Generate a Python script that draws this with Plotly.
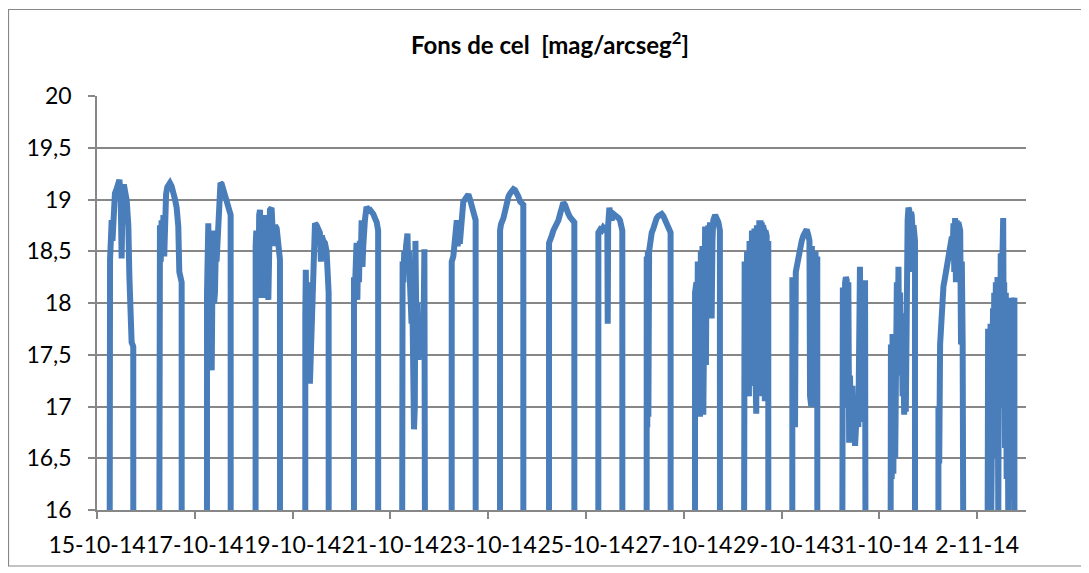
import pandas as pd
import plotly.graph_objects as go

# ---------------- data ----------------
start_date = "2014-10-15"
end_date = "2014-11-03"
chart_title = "<b>Fons de cel\u00a0 [mag/arcseg<sup>2</sup>]</b>"

x_tick_dates = ["2014-10-15", "2014-10-17", "2014-10-19", "2014-10-21", "2014-10-23",
                "2014-10-25", "2014-10-27", "2014-10-29", "2014-10-31", "2014-11-02"]
x_tick_labels = ["15-10-14", "17-10-14", "19-10-14", "21-10-14", "23-10-14",
                 "25-10-14", "27-10-14", "29-10-14", "31-10-14", "2-11-14"]
y_tick_values = [16, 16.5, 17, 17.5, 18, 18.5, 19, 19.5, 20]
y_tick_labels = ["16", "16,5", "17", "17,5", "18", "18,5", "19", "19,5", "20"]

# hours after midnight of each day / sky brightness (mag/arcsec^2); 12 = daylight (off scale)
n01_h = [6.0, 6.05, 6.1, 6.4, 6.9, 7.2, 7.6, 8.0, 8.8, 9.6, 10.5, 11.0, 11.6, 12.1, 12.6, 13.4, 14.6, 15.4, 15.9, 16.2, 17.0, 17.8, 17.85]
n01_m = [12, 16.95, 17.0, 18.42, 18.65, 18.8, 18.6, 18.9, 19.06, 19.1, 19.15, 19.19, 19.05, 18.43, 19.12, 19.12, 18.99, 18.74, 18.25, 17.77, 17.62, 17.58, 12]
n02_h = [6.2, 6.27, 6.4, 6.9, 7.3, 7.7, 8.1, 8.6, 9.0, 9.4, 9.9, 10.5, 11.8, 12.6, 13.5, 14.3, 15.1, 15.9, 16.4, 17.1, 17.55, 17.6]
n02_m = [12, 18.35, 18.6, 18.75, 18.4, 18.8, 18.45, 18.85, 18.45, 18.9, 19.05, 19.12, 19.16, 19.13, 19.08, 19.0, 18.92, 18.74, 18.3, 18.25, 18.2, 12]
n03_h = [5.95, 6.0, 6.3, 6.64, 7.0, 7.5, 7.9, 8.3, 8.7, 9.1, 9.5, 9.9, 10.3, 10.7, 11.2, 11.6, 12.0, 12.6, 13.2, 14.0, 14.8, 15.6, 16.5, 17.1, 17.6, 17.65]
n03_m = [12, 18.1, 18.5, 18.77, 17.4, 18.65, 17.5, 17.35, 18.3, 18.7, 18.0, 18.1, 18.5, 18.4, 18.6, 18.8, 19.12, 19.16, 19.15, 19.1, 19.05, 19.0, 18.95, 18.9, 18.85, 12]
n04_h = [5.8, 5.87, 6.2, 6.7, 7.2, 7.6, 8.0, 8.5, 8.9, 9.3, 9.9, 10.5, 10.9, 11.3, 11.7, 12.1, 12.9, 13.7, 14.6, 15.4, 16.2, 16.6, 17.0, 17.8, 17.85]
n04_m = [12, 18.55, 18.7, 18.3, 18.05, 18.85, 18.9, 18.1, 18.6, 18.05, 18.5, 18.85, 18.3, 18.1, 18.6, 18.03, 18.9, 18.92, 18.55, 18.75, 18.72, 18.6, 18.55, 18.42, 12]
n05_h = [6.2, 6.25, 6.5, 6.9, 7.3, 7.7, 8.1, 8.5, 9.0, 9.4, 9.8, 10.2, 10.6, 11.0, 11.8, 12.6, 13.4, 13.9, 14.3, 15.1, 15.9, 16.7, 17.0, 17.7, 17.75]
n05_m = [12, 17.9, 18.32, 17.5, 18.2, 17.25, 17.8, 17.22, 17.6, 17.5, 18.0, 18.45, 18.6, 18.77, 18.75, 18.72, 18.68, 18.4, 18.65, 18.6, 18.58, 18.5, 18.2, 18.1, 12]
n06_h = [6.1, 6.14, 6.5, 6.9, 7.4, 7.8, 8.2, 8.6, 9.0, 9.5, 9.9, 10.3, 10.7, 11.5, 12.3, 13.2, 14.0, 15.6, 16.5, 17.3, 18.0, 18.05]
n06_m = [12, 18.25, 18.05, 18.3, 18.58, 18.03, 18.55, 18.2, 18.6, 18.45, 18.8, 18.35, 18.55, 18.8, 18.93, 18.9, 18.9, 18.86, 18.82, 18.78, 18.7, 12]
n07_h = [5.5, 5.58, 6.0, 6.4, 6.8, 7.2, 7.7, 8.4, 8.8, 9.2, 9.6, 10.0, 10.4, 10.8, 11.2, 11.6, 12.0, 12.3, 12.6, 12.9, 13.3, 13.8, 14.2, 14.6, 15.0, 15.4, 15.8, 16.2, 16.7, 17.3, 17.35]
n07_m = [12, 18.1, 18.4, 18.2, 18.5, 18.35, 18.55, 18.67, 18.3, 18.5, 18.2, 18.06, 17.8, 18.0, 17.2, 16.78, 17.0, 18.6, 18.2, 17.5, 18.0, 17.45, 17.8, 17.55, 17.9, 17.5, 17.5, 17.6, 18.52, 18.45, 12]
n08_h = [6.05, 6.12, 6.9, 7.8, 8.6, 9.0, 9.4, 10.2, 11.0, 11.8, 12.6, 13.5, 14.3, 15.1, 15.9, 16.8, 17.85, 17.9]
n08_m = [12, 18.4, 18.45, 18.6, 18.8, 18.55, 18.6, 18.6, 18.9, 18.98, 19.0, 19.04, 19.05, 19.0, 18.93, 18.85, 18.8, 12]
n09_h = [5.8, 5.84, 6.3, 7.5, 8.3, 9.1, 10.0, 10.8, 11.6, 12.4, 13.2, 14.0, 14.8, 15.7, 16.5, 17.25, 17.3]
n09_m = [12, 18.7, 18.76, 18.82, 18.9, 18.98, 19.03, 19.06, 19.09, 19.1, 19.09, 19.07, 19.03, 18.98, 18.97, 18.95, 12]
n10_h = [5.85, 5.89, 6.5, 7.2, 8.0, 8.8, 9.7, 10.5, 11.3, 12.1, 12.9, 13.7, 14.6, 15.4, 16.2, 17.3, 18.3, 18.35]
n10_m = [12, 18.58, 18.6, 18.65, 18.7, 18.73, 18.78, 18.8, 18.86, 18.93, 18.97, 18.95, 18.88, 18.86, 18.83, 18.8, 18.78, 12]
n11_h = [6.05, 6.1, 7.0, 7.7, 8.5, 9.4, 10.2, 10.5, 10.69, 10.9, 11.5, 12.0, 12.6, 13.5, 14.3, 15.1, 16.0, 16.7, 17.85, 17.9]
n11_m = [12, 18.68, 18.71, 18.7, 18.73, 18.71, 18.74, 18.72, 17.8, 18.75, 18.92, 18.85, 18.8, 18.86, 18.85, 18.84, 18.82, 18.8, 18.7, 12]
n12_h = [5.75, 5.83, 6.1, 6.4, 6.64, 7.0, 7.46, 8.3, 9.1, 9.9, 10.7, 11.5, 12.4, 13.2, 14.0, 14.8, 15.6, 16.5, 17.0, 17.55, 17.6]
n12_m = [12, 18.45, 16.8, 18.5, 16.9, 18.5, 18.6, 18.68, 18.72, 18.8, 18.82, 18.84, 18.85, 18.86, 18.84, 18.8, 18.78, 18.75, 18.7, 18.68, 12]
n13_h = [5.5, 5.55, 5.9, 6.2, 6.5, 6.9, 7.2, 7.6, 8.0, 8.4, 8.8, 9.2, 9.6, 10.0, 10.5, 10.9, 11.3, 11.7, 12.1, 12.5, 12.9, 13.3, 13.7, 14.1, 14.5, 15.4, 16.2, 17.0, 17.75, 17.8]
n13_m = [12, 18.1, 16.95, 18.2, 16.9, 18.4, 17.0, 18.3, 16.9, 18.5, 17.1, 18.55, 16.92, 18.6, 18.74, 17.4, 18.7, 17.9, 18.75, 18.6, 18.78, 18.4, 17.85, 18.6, 18.8, 18.85, 18.82, 18.78, 18.7, 12]
n14_h = [5.2, 5.27, 5.6, 5.9, 6.2, 6.5, 6.8, 7.1, 7.4, 7.7, 8.0, 8.3, 8.6, 8.9, 9.2, 9.5, 9.8, 10.1, 10.4, 10.7, 11.0, 11.3, 11.6, 11.9, 12.2, 12.5, 12.8, 13.1, 13.4, 13.7, 14.0, 14.3, 14.6, 14.9, 15.2, 15.5, 15.8, 16.1, 16.4, 16.7, 17.0, 17.5, 17.55]
n14_m = [12, 18.3, 17.1, 18.4, 17.1, 18.45, 17.15, 18.5, 17.2, 18.55, 17.1, 18.6, 17.3, 18.65, 17.4, 18.7, 17.6, 18.7, 17.2, 18.72, 17.5, 18.75, 16.93, 18.75, 17.3, 18.78, 17.5, 18.8, 17.6, 18.8, 17.4, 18.78, 17.1, 18.75, 17.3, 18.7, 17.05, 18.7, 17.2, 18.65, 17.1, 18.6, 12]
n15_h = [5.25, 5.32, 5.7, 6.2, 6.63, 7.0, 7.45, 8.26, 9.08, 9.9, 10.72, 11.5, 12.35, 13.2, 13.7, 14.0, 14.3, 14.6, 14.9, 15.2, 15.5, 15.8, 16.1, 16.4, 16.7, 17.0, 17.55, 17.6]
n15_m = [12, 18.25, 16.95, 18.2, 16.8, 18.3, 18.35, 18.4, 18.55, 18.6, 18.65, 18.68, 18.71, 18.65, 18.6, 17.1, 18.55, 17.0, 18.55, 17.05, 18.5, 17.0, 18.5, 17.1, 18.5, 17.2, 18.45, 12]
n16_h = [5.45, 5.53, 5.8, 6.1, 6.35, 6.8, 7.2, 7.6, 8.0, 8.4, 8.8, 9.2, 9.6, 10.0, 10.4, 10.8, 11.3, 11.7, 12.1, 12.5, 12.9, 13.3, 13.7, 14.1, 14.5, 14.9, 15.3, 15.7, 16.2, 16.6, 17.0, 17.45, 17.5]
n16_m = [12, 18.1, 17.0, 18.15, 18.0, 17.2, 18.2, 18.25, 18.22, 17.0, 18.2, 16.65, 17.3, 16.95, 16.65, 17.2, 16.7, 16.75, 16.62, 16.9, 16.7, 17.1, 16.8, 18.0, 18.35, 17.4, 16.85, 18.1, 18.2, 17.2, 18.22, 18.2, 12]
n17_h = [5.25, 5.3, 5.7, 6.1, 6.5, 6.9, 7.3, 7.8, 8.2, 8.6, 9.0, 9.4, 9.8, 10.2, 10.6, 11.0, 11.4, 11.8, 12.2, 12.6, 13.0, 13.3, 13.6, 13.9, 14.3, 14.7, 15.1, 15.5, 15.9, 16.3, 16.8, 17.5, 17.55]
n17_m = [12, 16.25, 17.6, 16.3, 17.7, 16.35, 17.65, 16.5, 17.8, 18.2, 17.5, 18.35, 17.3, 18.1, 17.3, 17.75, 17.1, 17.5, 16.92, 17.9, 16.95, 18.5, 18.1, 18.8, 18.92, 18.9, 18.3, 18.88, 18.85, 18.7, 18.75, 18.6, 12]
n18_h = [4.95, 5.02, 5.4, 5.84, 6.2, 6.66, 7.1, 7.48, 8.3, 9.1, 9.9, 10.75, 11.6, 12.0, 12.4, 12.8, 13.2, 13.6, 14.0, 14.4, 14.8, 15.3, 15.7, 16.1, 16.5, 16.9, 17.3, 17.75, 17.8]
n18_m = [12, 17.0, 16.45, 17.6, 17.77, 18.03, 18.1, 18.16, 18.25, 18.35, 18.4, 18.48, 18.64, 18.5, 18.77, 18.3, 18.82, 18.2, 18.8, 18.4, 18.78, 18.75, 18.7, 17.6, 18.4, 17.65, 17.0, 17.05, 12]
n19_h = [4.7, 4.75, 5.1, 5.4, 5.7, 6.0, 6.3, 6.6, 6.9, 7.2, 7.5, 7.8, 8.1, 8.4, 8.8, 9.2, 9.6, 10.0, 10.4, 10.8, 11.2, 11.6, 12.0, 12.4, 12.8, 13.0, 13.3, 13.7, 14.1, 14.5, 14.9, 15.3, 15.6, 15.9, 16.2, 16.6, 17.0, 17.4, 17.8, 18.3, 18.35]
n19_m = [12, 17.7, 15.8, 17.75, 15.9, 17.5, 16.2, 17.8, 15.8, 17.0, 16.3, 17.95, 16.8, 18.1, 17.2, 18.2, 16.5, 18.25, 15.9, 18.2, 17.0, 18.48, 17.5, 18.4, 18.82, 17.9, 18.2, 16.6, 18.1, 16.3, 17.8, 15.9, 17.5, 16.15, 18.05, 16.1, 17.9, 16.5, 18.0, 18.05, 12]

night_hours = [n01_h, n02_h, n03_h, n04_h, n05_h, n06_h, n07_h, n08_h, n09_h, n10_h,
               n11_h, n12_h, n13_h, n14_h, n15_h, n16_h, n17_h, n18_h, n19_h]
night_mags = [n01_m, n02_m, n03_m, n04_m, n05_m, n06_m, n07_m, n08_m, n09_m, n10_m,
              n11_m, n12_m, n13_m, n14_m, n15_m, n16_m, n17_m, n18_m, n19_m]

# ---------------- build series ----------------
base = pd.Timestamp(start_date)
xs, ys = [], []
for day, (hrs, mags) in enumerate(zip(night_hours, night_mags)):
    for h, m in zip(hrs, mags):
        xs.append(base + pd.Timedelta(days=day, hours=h))
        ys.append(m)

LINE_BLUE = "#4a7ebb"
GRID = "#878787"
FONT = "Lato, 'Open Sans', sans-serif"
TICK_SIZE = 23

# the page body has an 8px margin, so work in figure coordinates = screen - 8
OFF = 8
W, H = 1089 - OFF, 573 - OFF
L, R, T, B = 97 - OFF, 1026 - OFF, 96 - OFF, 510 - OFF

def px_x(p):
    return (p - OFF - L) / (R - L)

def px_y(p):
    return (B - (p - OFF)) / (B - T)

fig = go.Figure()
fig.add_trace(go.Scatter(x=xs, y=ys, mode="lines",
                         line=dict(color=LINE_BLUE, width=6), hoverinfo="skip",
                         showlegend=False))

fig.update_layout(
    width=W, height=H,
    margin=dict(l=L, r=W - R, t=T, b=H - B, autoexpand=False),
    paper_bgcolor="white", plot_bgcolor="white",
    font=dict(family=FONT, size=TICK_SIZE, color="black"),
    title=dict(text=chart_title, x=(550 - OFF) / W, xref="container", xanchor="center",
               y=1 - (46 - OFF) / H, yref="container", yanchor="middle",
               font=dict(family=FONT, size=24, color="black")),
    xaxis=dict(type="date", range=[start_date, end_date],
               tickvals=x_tick_dates, ticktext=x_tick_labels, tickangle=0,
               automargin=False,
               showgrid=False, showline=True, linecolor=GRID, linewidth=1.5,
               ticks="outside", ticklen=7, tickwidth=1.5, tickcolor=GRID,
               ticklabelstandoff=7, zeroline=False,
               tickfont=dict(family=FONT, size=TICK_SIZE, color="black")),
    yaxis=dict(range=[16, 20], tickvals=y_tick_values, ticktext=y_tick_labels,
               automargin=False,
               showgrid=True, gridcolor=GRID, gridwidth=1.5,
               showline=True, linecolor=GRID, linewidth=1.5,
               ticks="outside", ticklen=7, tickwidth=1.5, tickcolor=GRID,
               ticklabelstandoff=12, zeroline=False,
               tickfont=dict(family=FONT, size=TICK_SIZE, color="black")),
    shapes=[dict(type="rect", xref="paper", yref="paper",
                 x0=px_x(8.5), x1=px_x(1100), y0=px_y(566), y1=px_y(9.5),
                 line=dict(color=GRID, width=1.2), fillcolor="rgba(0,0,0,0)",
                 layer="below")],
)

fig.write_html("out.html")
